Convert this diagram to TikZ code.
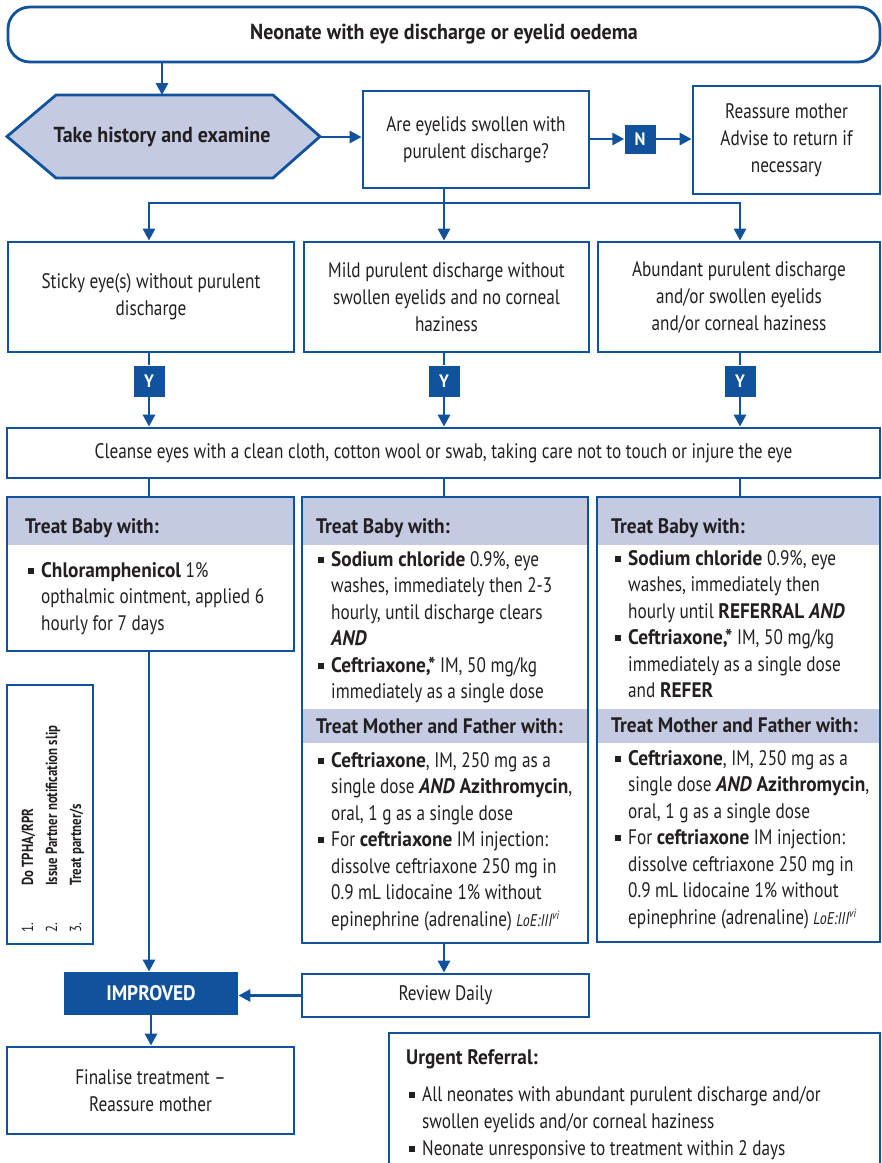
\documentclass[tikz,border=0pt]{standalone}
\usepackage{fontspec}
\setmainfont{PT Sans}[FakeStretch=0.82, BoldFeatures={FakeStretch=0.92}, BoldItalicFeatures={FakeStretch=0.92}]
\newfontfamily\narrowfont{PT Sans}[FakeStretch=0.8]
\usetikzlibrary{arrows.meta,calc}
\definecolor{mblue}{RGB}{16,82,155}
\definecolor{lav}{RGB}{196,202,226}
\definecolor{txt}{RGB}{35,31,32}
\newcommand\bul{\makebox[13pt][l]{\rule[3.5pt]{5.8pt}{5.8pt}}}
\newcommand\ind{\hspace*{13pt}}
\newcommand\loe{{\itshape\fontsize{17}{17}\selectfont LoE:III\textsuperscript{vi}}}
\tikzset{
  plain/.style={text=txt, inner sep=0pt},
  box/.style={draw=mblue, line width=2.8pt, fill=white, inner sep=0pt, align=center, text=txt, font=\fontsize{21}{27}\selectfont},
  frame/.style={draw=mblue, line width=2.8pt, inner sep=0pt},
  conn/.style={draw=mblue, line width=2.8pt},
  arr/.style={conn, -{Triangle[length=12pt,width=12pt]}},
  tag/.style={fill=mblue, text=white, inner sep=0pt, font=\bfseries\fontsize{18}{18}\selectfont, minimum width=31pt, minimum height=31pt},
  hdr/.style={plain, anchor=base west, font=\bfseries\fontsize{21}{21}\selectfont},
  body/.style={plain, anchor=north west, align=left, font=\fontsize{21}{26.5}\selectfont},
  rot/.style={plain, rotate=90, anchor=base west, font=\narrowfont\fontsize{16}{16}\selectfont},
}
\begin{document}
\begin{tikzpicture}[x=1pt,y=-1pt]
\useasboundingbox (0,0) rectangle (882,1163);
\clip (0,0) rectangle (882,1163);

% title
\node[box, minimum width=872pt, minimum height=55pt, rounded corners=22pt, font=\bfseries\fontsize{21.7}{24}\selectfont] (top) at (444,34.5) {Neonate with eye discharge or eyelid oedema};

% hexagon
\filldraw[draw=mblue, fill=lav, line width=2.8pt] (7,136.5) -- (56,95) -- (273,95) -- (320,136.5) -- (273,178) -- (56,178) -- cycle;
\node[plain, minimum width=313pt, minimum height=83pt, font=\bfseries\fontsize{21.7}{24}\selectfont] (hist) at (162,137.5) {Take history and examine};

\node[box, minimum width=226pt, minimum height=97pt] (q) at (476,139.5) {Are eyelids swollen with\\purulent discharge?};
\node[tag, minimum height=29pt] (n) at (640,139) {N};
\node[box, minimum width=187pt, minimum height=108pt] (r) at (786.5,140) {Reassure mother\\Advise to return if\\necessary};

% conditions
\node[box, minimum width=286pt, minimum height=110pt] (a1) at (151,297) {Sticky eye(s) without purulent\\discharge};
\node[box, minimum width=285pt, minimum height=110pt] (a2) at (446.5,297) {Mild purulent discharge without\\swollen eyelids and no corneal\\haziness};
\node[box, minimum width=282pt, minimum height=110pt] (a3) at (739,297) {Abundant purulent discharge\\and/or swollen eyelids\\and/or corneal haziness};

\node[tag] (y1) at (149,381) {Y};
\node[tag] (y2) at (444,381) {Y};
\node[tag] (y3) at (740,381) {Y};

\node[box, minimum width=873pt, minimum height=50pt] (cl) at (443.5,453) {Cleanse eyes with a clean cloth, cotton wool or swab, taking care not to touch or injure the eye};

% treatment boxes
\fill[lav] (7,497) rectangle (294,545);
\fill[lav] (302,497) rectangle (588,545);
\fill[lav] (302,709) rectangle (588,743);
\fill[lav] (597,497) rectangle (880,545);
\fill[lav] (597,709) rectangle (880,743);
\node[frame, minimum width=287pt, minimum height=154pt] (t1) at (150.5,574) {};
\node[frame, minimum width=286pt, minimum height=446pt] (t2) at (445,720) {};
\node[frame, minimum width=283pt, minimum height=445pt] (t3) at (738.5,719.5) {};

\node[hdr] (t1h) at (25,533) {Treat Baby with:};
\node[hdr] (t2h) at (316,533) {Treat Baby with:};
\node[hdr] (t2m) at (316,733) {Treat Mother and Father with:};
\node[hdr] (t3h) at (611,533) {Treat Baby with:};
\node[hdr] (t3m) at (611,732) {Treat Mother and Father with:};

\node[body] (t1b) at (28,558.5) {\strut\bul\textbf{Chloramphenicol} 1\%\\
\ind opthalmic ointment, applied 6\\
\ind hourly for 7 days};

\node[body] (t2b) at (318,547.5) {\strut\bul\textbf{Sodium chloride} 0.9\%, eye\\
\ind washes, immediately then 2-3\\
\ind hourly, until discharge clears\\
\ind\textbf{\textit{AND}}\\
\bul\textbf{Ceftriaxone,*} IM, 50 mg/kg\\
\ind immediately as a single dose};

\node[body] (t2c) at (318,748.5) {\strut\bul\textbf{Ceftriaxone}, IM, 250 mg as a\\
\ind single dose \textbf{\textit{AND} Azithromycin},\\
\ind oral, 1 g as a single dose\\
\bul For \textbf{ceftriaxone} IM injection:\\
\ind dissolve ceftriaxone 250 mg in\\
\ind 0.9 mL lidocaine 1\% without\\
\ind epinephrine (adrenaline) \loe};

\node[body] (t3b) at (615,546.5) {\strut\bul\textbf{Sodium chloride} 0.9\%, eye\\
\ind washes, immediately then\\
\ind hourly until \textbf{REFERRAL \textit{AND}}\\
\bul\textbf{Ceftriaxone,*} IM, 50 mg/kg\\
\ind immediately as a single dose\\
\ind and \textbf{REFER}};

\node[body] (t3c) at (615,746.5) {\strut\bul\textbf{Ceftriaxone}, IM, 250 mg as a\\
\ind single dose \textbf{\textit{AND} Azithromycin},\\
\ind oral, 1 g as a single dose\\
\bul For \textbf{ceftriaxone} IM injection:\\
\ind dissolve ceftriaxone 250 mg in\\
\ind 0.9 mL lidocaine 1\% without\\
\ind epinephrine (adrenaline) \loe};

% rotated box
\node[frame, minimum width=86pt, minimum height=259pt] (pn) at (50,814.5) {};
\node[rot] (pn1) at (33,933) {\makebox[47pt][l]{1.}\textbf{Do TPHA/RPR}};
\node[rot] (pn2) at (57,933) {\makebox[47pt][l]{2.}\textbf{Issue Partner notification slip}};
\node[rot] (pn3) at (81,933) {\makebox[47pt][l]{3.}\textbf{Treat partner/s}};

% bottom
\node[box, fill=mblue, draw=mblue, text=white, minimum width=172pt, minimum height=41pt, font=\bfseries\fontsize{21}{24}\selectfont] (imp) at (151,993.5) {IMPROVED};
\node[box, minimum width=287pt, minimum height=43pt] (rev) at (445.5,995.5) {Review Daily};
\node[box, minimum width=287pt, minimum height=87pt] (fin) at (150.5,1090.5) {Finalise treatment --\\Reassure mother};

\node[frame, fill=white, minimum width=491pt, minimum height=142pt] (urg) at (634.5,1104) {};
\node[hdr] (urgh) at (406,1064) {Urgent Referral:};
\node[body, font=\fontsize{21}{27}\selectfont] (urgb) at (409,1082.5) {\strut\bul All neonates with abundant purulent discharge and/or\\
\ind swollen eyelids and/or corneal haziness\\
\bul Neonate unresponsive to treatment within 2 days};

% connectors
\draw[arr] (top.south -| hist.north) -- (hist.north |- 0,95);
\draw[arr] (hist.east |- 0,137) -- (320,137 -| q.west);
\draw[arr] (q.east |- n.west) -- (n.west);
\draw[arr] (n.east) -- (n.east -| r.west);
\coordinate (br) at (444,203);
\draw[conn] (q.south -| br) -- (br);
\draw[arr] (br) -| (y1 |- a1.north);
\draw[arr] (br) -| (y3 |- a3.north);
\draw[arr] (br) -- (br |- a2.north);
\foreach \i in {1,2,3}{
  \draw[conn] (a\i.south -| y\i) -- (y\i.north);
  \draw[arr] (y\i.south) -- (y\i.south |- cl.north);
  \draw[conn] (cl.south -| y\i) -- (y\i |- t\i.north);
}
\draw[arr] (t1.south -| y1) -- (y1 |- imp.north);
\draw[arr] (t2.south -| y2) -- (y2 |- rev.north);
\draw[arr] (rev.west) -- (rev.west -| imp.east);
\draw[arr] (imp.south) -- (imp.south |- fin.north);
\end{tikzpicture}
\end{document}
